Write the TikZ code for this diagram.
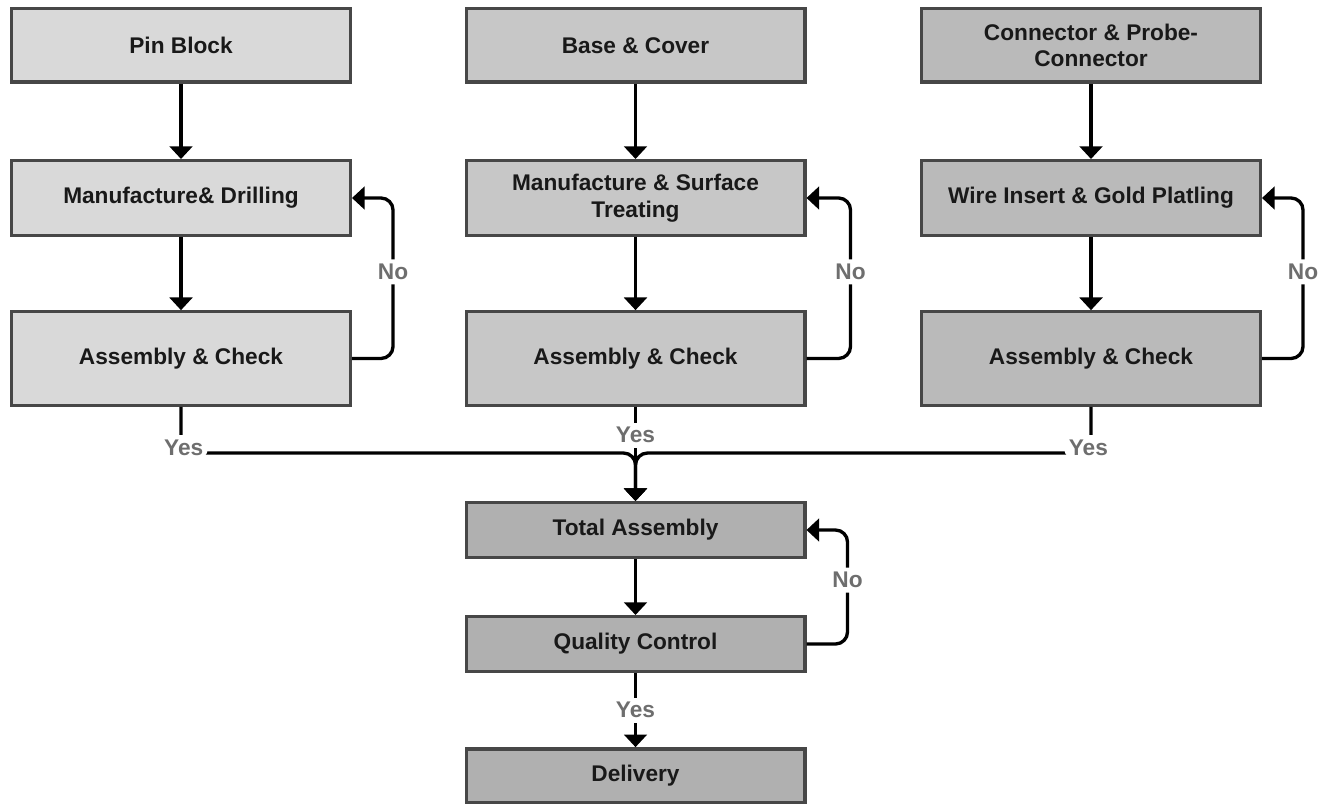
\documentclass[tikz,border=0pt]{standalone}
\usepackage{fontspec}
\setmainfont{Liberation Sans}
\usetikzlibrary{arrows.meta}

\begin{document}
\begin{tikzpicture}[x=0.75pt, y=-0.75pt,
    box/.style={draw=black!72, line width=2.5pt, minimum width=254pt, align=center,
      font=\fontsize{17}{20}\selectfont\bfseries, text=black!90},
    flow/.style={line width=2.5pt, -{Triangle[width=17pt,length=9.5pt]}},
    lbl/.style={fill=white, inner sep=3.5pt, text=black!57, font=\fontsize{17}{20}\selectfont\bfseries}]
    \useasboundingbox (0, 0) rectangle (1334, 805);

    % first column
    \node[box, fill=black!15, minimum height=55pt] (pin) at (181, 45.5) {Pin Block};
    \node[box, fill=black!15, minimum height=56pt] (man1) at (181, 198) {Manufacture\& Drilling};
    \node[box, fill=black!15, minimum height=70pt] (asm1) at (181, 358.5) {Assembly \& Check};

    % second column
    \node[box, fill=black!22, minimum height=55pt] (base) at (635.5, 45.5) {Base \& Cover};
    \node[box, fill=black!22, minimum height=56pt] (man2) at (635.5, 198) {Manufacture \& Surface\\Treating};
    \node[box, fill=black!22, minimum height=70pt] (asm2) at (635.5, 358.5) {Assembly \& Check};

    % third column
    \node[box, fill=black!27, minimum height=55pt] (conn) at (1091, 45.5) {Connector \& Probe-\\Connector};
    \node[box, fill=black!27, minimum height=56pt] (wire) at (1091, 198) {Wire Insert \& Gold Platling};
    \node[box, fill=black!27, minimum height=70pt] (asm3) at (1091, 358.5) {Assembly \& Check};

    % final stages
    \node[box, fill=black!31, minimum height=41pt] (total) at (635.5, 530) {Total Assembly};
    \node[box, fill=black!31, minimum height=41pt] (qc) at (635.5, 644) {Quality Control};
    \node[box, fill=black!31, minimum height=40pt] (deliv) at (635.5, 775.5) {Delivery};
    \coordinate (join) at (635.5, 453);

    \draw[flow] (pin.south) -- (man1.north);
    \draw[flow] (man1.south) -- (asm1.north);
    \draw[flow] (base.south) -- (man2.north);
    \draw[flow] (man2.south) -- (asm2.north);
    \draw[flow] (conn.south) -- (wire.north);
    \draw[flow] (wire.south) -- (asm3.north);
    \draw[flow] (total.south) -- (qc.north);

    % rework loops
    \draw[flow, rounded corners=9pt] (asm1.east) -- ++(41, 0) |- node[lbl, pos=0.27] {No} (man1.east);
    \draw[flow, rounded corners=9pt] (asm2.east) -- ++(44, 0) |- node[lbl, pos=0.27] {No} (man2.east);
    \draw[flow, rounded corners=9pt] (asm3.east) -- ++(41, 0) |- node[lbl, pos=0.27] {No} (wire.east);
    \draw[flow, rounded corners=9pt] (qc.east) -- ++(41, 0) |- node[lbl, pos=0.28] {No} (total.east);

    % passed checks
    \draw[flow] (asm2.south) -- node[lbl, pos=0.3] {Yes} (total.north);
    \draw[flow, rounded corners=9pt] (asm1.south) |- node[lbl, pos=0.5, xshift=2pt, yshift=4pt] {Yes} (join) -- (total.north);
    \draw[flow, rounded corners=9pt] (asm3.south) |- node[lbl, pos=0.5, xshift=-2pt, yshift=4pt] {Yes} (join) -- (total.north);
    \draw[flow] (qc.south) -- node[lbl] {Yes} (deliv.north);
\end{tikzpicture}
\end{document}
